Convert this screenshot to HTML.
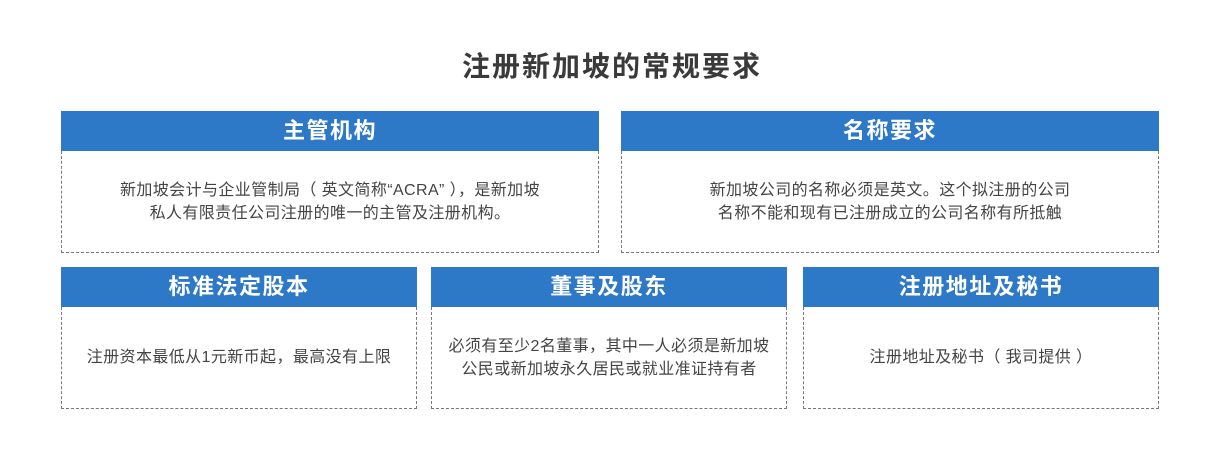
<!DOCTYPE html>
<html><head><meta charset="utf-8"><style>
body{margin:0;width:1224px;height:465px;background:#fff;position:relative;font-family:"Liberation Sans","Noto Sans CJK SC",sans-serif;overflow:hidden}
.t{position:absolute;top:45px;left:0;width:1224px;text-align:center;font-size:28px;letter-spacing:2px;font-weight:bold;color:#3a3a3a}
.b{position:absolute}
.h{height:40px;background:#2e78c8;color:#fff;font-weight:bold;font-size:22px;letter-spacing:1.5px;text-align:center;line-height:40px}
.c{border:1px dashed #777;border-top:none;box-sizing:border-box;height:102px;display:flex;align-items:center;justify-content:center;text-align:center;font-size:16px;letter-spacing:0.4px;line-height:23px;color:#444}
</style></head><body>
<div class="t">注册新加坡的常规要求</div>
<div class="b" style="left:61px;top:111px;width:538px"><div class="h">主管机构</div><div class="c">新加坡会计与企业管制局（ 英文简称“ACRA” ），是新加坡<br>私人有限责任公司注册的唯一的主管及注册机构。</div></div>
<div class="b" style="left:621px;top:111px;width:538px"><div class="h">名称要求</div><div class="c">新加坡公司的名称必须是英文。这个拟注册的公司<br>名称不能和现有已注册成立的公司名称有所抵触</div></div>
<div class="b" style="left:61px;top:267px;width:356px"><div class="h">标准法定股本</div><div class="c">注册资本最低从1元新币起，最高没有上限</div></div>
<div class="b" style="left:431px;top:267px;width:356px"><div class="h">董事及股东</div><div class="c">必须有至少2名董事，其中一人必须是新加坡<br>公民或新加坡永久居民或就业准证持有者</div></div>
<div class="b" style="left:803px;top:267px;width:356px"><div class="h">注册地址及秘书</div><div class="c">注册地址及秘书（ 我司提供 ）</div></div>
</body></html>
